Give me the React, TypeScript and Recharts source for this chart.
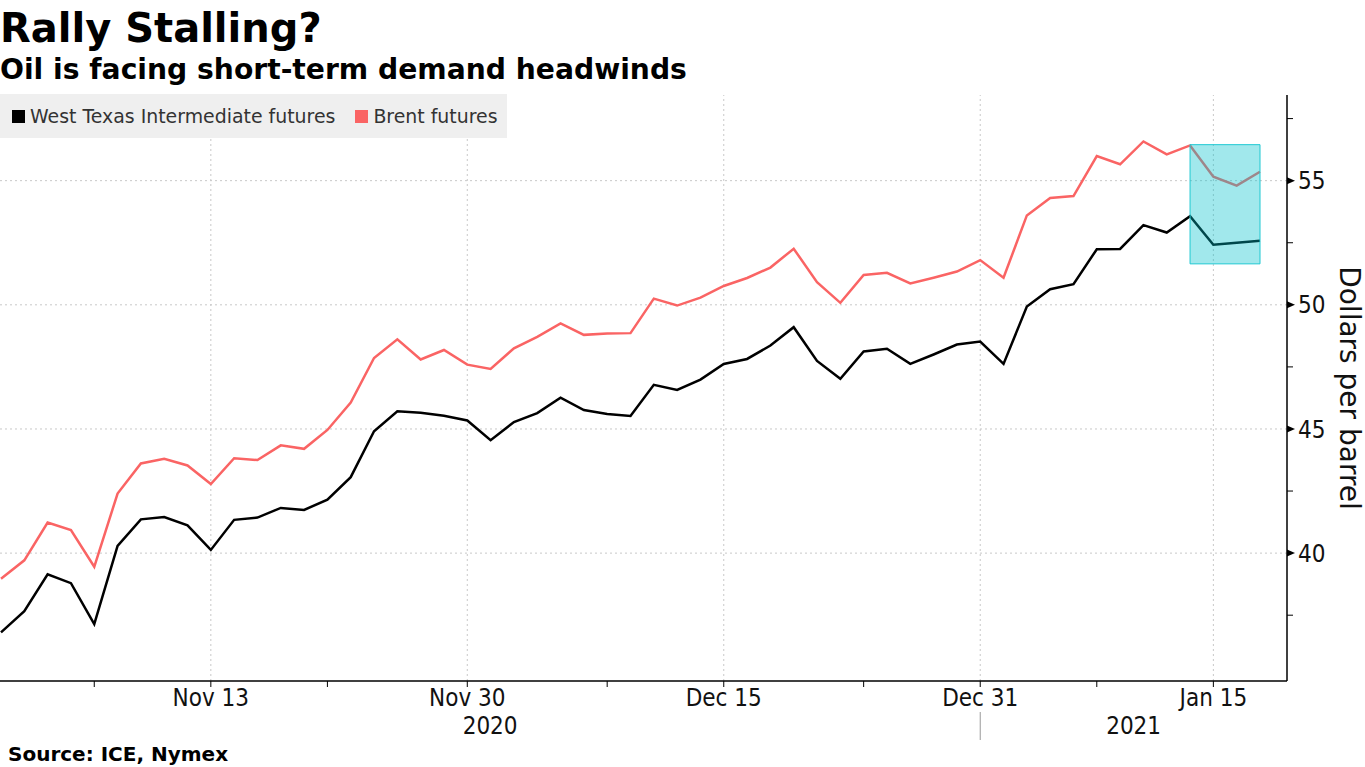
import React from 'react';
import { LineChart, Line, XAxis, YAxis, ReferenceArea, ReferenceLine } from 'recharts';

// trading days shown on the chart
const dates = [
  'Nov 2', 'Nov 3', 'Nov 4', 'Nov 5', 'Nov 6', 'Nov 9', 'Nov 10', 'Nov 11', 'Nov 12', 'Nov 13',
  'Nov 16', 'Nov 17', 'Nov 18', 'Nov 19', 'Nov 20', 'Nov 23', 'Nov 24', 'Nov 25', 'Nov 26', 'Nov 27', 'Nov 30',
  'Dec 1', 'Dec 2', 'Dec 3', 'Dec 4', 'Dec 7', 'Dec 8', 'Dec 9', 'Dec 10', 'Dec 11',
  'Dec 14', 'Dec 15', 'Dec 16', 'Dec 17', 'Dec 18', 'Dec 21', 'Dec 22', 'Dec 23', 'Dec 24',
  'Dec 28', 'Dec 29', 'Dec 30', 'Dec 31',
  'Jan 4', 'Jan 5', 'Jan 6', 'Jan 7', 'Jan 8', 'Jan 11', 'Jan 12', 'Jan 13', 'Jan 14', 'Jan 15', 'Jan 18', 'Jan 19',
];

const wti = [
  36.81, 37.66, 39.15, 38.79, 37.14, 40.29, 41.36, 41.45, 41.12, 40.13,
  41.34, 41.43, 41.82, 41.74, 42.15, 43.06, 44.91, 45.71, 45.65, 45.53, 45.34,
  44.55, 45.28, 45.64, 46.26, 45.76, 45.6, 45.52, 46.78, 46.57,
  46.99, 47.62, 47.82, 48.36, 49.1, 47.74, 47.02, 48.12, 48.23,
  47.62, 48.0, 48.4, 48.52,
  47.62, 49.93, 50.63, 50.83, 52.24, 52.25, 53.21, 52.91, 53.57, 52.42, 52.5, 52.58,
];

const brent = [
  38.97, 39.71, 41.23, 40.93, 39.45, 42.4, 43.61, 43.8, 43.53, 42.78,
  43.82, 43.75, 44.34, 44.2, 44.96, 46.06, 47.86, 48.61, 47.8, 48.18, 47.59,
  47.42, 48.25, 48.71, 49.25, 48.79, 48.84, 48.86, 50.25, 49.97,
  50.29, 50.76, 51.08, 51.5, 52.26, 50.91, 50.08, 51.2, 51.29,
  50.86, 51.09, 51.34, 51.8,
  51.09, 53.6, 54.3, 54.38, 55.99, 55.66, 56.58, 56.06, 56.42, 55.16, 54.8, 55.36,
];

const majorTicks = ['Nov 13', 'Nov 30', 'Dec 15', 'Dec 31', 'Jan 15'];
const minorTicks = ['Nov 6', 'Nov 20', 'Dec 8', 'Dec 23', 'Jan 8'];
const yTicks = [37.5, 40, 42.5, 45, 47.5, 50, 52.5, 55, 57.5];
const yGrid = [40, 45, 50, 55];
const yearLabels = ['2020', '2021'];
const yearBreak = 'Dec 31';
const highlight = { from: 'Jan 14', to: 'Jan 19', low: 51.65, high: 56.45 };

const series = [
  { key: 'wti', name: 'West Texas Intermediate futures', color: '#000000' },
  { key: 'brent', name: 'Brent futures', color: '#fa6464' },
];

const data = dates.map((d, i) => ({ date: d, wti: wti[i], brent: brent[i] }));

const W = 1365;
const H = 767;
const Y_AXIS_W = 78;
const X_AXIS_H = 86;
const PLOT_TOP = 95;
const PLOT_RIGHT = W - Y_AXIS_W;
const Y_DOMAIN: [number, number] = [34.85, 58.45];
const X_PAD = { left: 1, right: 27 };
const tickFont = "'DejaVu Sans Condensed', 'DejaVu Sans', sans-serif";

function XTick(props: any) {
  const { x, y, payload } = props;
  const v = payload.value;
  if (!majorTicks.includes(v)) return null;
  return (
    <g>
      <text x={x} y={y + 17} textAnchor="middle" fontSize={24} fill="#111"
        style={{ fontFamily: tickFont, fontStretch: 'condensed' }}>{v}</text>
      {v === yearBreak && (
        <g>
          <line x1={x} x2={x} y1={y + 23} y2={y + 51} stroke="#999" strokeWidth={1} />
          <text x={x / 2} y={y + 45} textAnchor="middle" fontSize={24} fill="#111"
            style={{ fontFamily: tickFont, fontStretch: 'condensed' }}>{yearLabels[0]}</text>
          <text x={(x + PLOT_RIGHT) / 2} y={y + 45} textAnchor="middle" fontSize={24} fill="#111"
            style={{ fontFamily: tickFont, fontStretch: 'condensed' }}>{yearLabels[1]}</text>
        </g>
      )}
    </g>
  );
}

function YTick(props: any) {
  const { x, y, payload } = props;
  const v = payload.value;
  if (v % 5 === 0) {
    return (
      <g>
        <path d={`M${x},${y - 3.5} L${x + 8},${y} L${x},${y + 3.5} Z`} fill="#000" />
        <text x={x + 11} y={y} dy="0.36em" fontSize={24} fill="#111"
          style={{ fontFamily: tickFont, fontStretch: 'condensed' }}>{v}</text>
      </g>
    );
  }
  return <line x1={x} x2={x + 6} y1={y} y2={y} stroke="#000" strokeWidth={1} />;
}

function YLabel(props: any) {
  const { viewBox } = props;
  const cx = viewBox.x + 63;
  const cy = viewBox.y + viewBox.height / 2;
  return (
    <text x={cx} y={cy} transform={`rotate(90 ${cx} ${cy})`} textAnchor="middle" dy="0.36em"
      fontSize={28} fill="#111" style={{ fontFamily: "'DejaVu Sans', sans-serif" }}>
      Dollars per barrel
    </text>
  );
}

export default function App() {
  return (
    <div style={{ position: 'absolute', left: 0, top: 0, width: W, height: H, background: '#fff' }}>
      <svg width={W} height={90} style={{ position: 'absolute', left: 0, top: 0 }}>
        <text x={0} y={42} fontSize={40} fontWeight="bold" fill="#000"
          style={{ fontFamily: "'DejaVu Sans', sans-serif" }}>Rally Stalling?</text>
        <text x={0} y={79} fontSize={28.2} fontWeight="bold" fill="#000"
          style={{ fontFamily: "'DejaVu Sans', sans-serif" }}>Oil is facing short-term demand headwinds</text>
      </svg>
      <div style={{ position: 'absolute', left: 0, top: 0 }}>
        <LineChart width={W} height={H} data={data} margin={{ top: PLOT_TOP, right: 0, bottom: 0, left: 0 }}>
          {yGrid.map((v) => (
            <ReferenceLine key={`gy${v}`} y={v} stroke="#c8c8c8" strokeDasharray="2 3" />
          ))}
          {majorTicks.map((d) => (
            <ReferenceLine key={`gx${d}`} x={d} stroke="#c8c8c8" strokeDasharray="2 3" />
          ))}
          <XAxis dataKey="date" ticks={[...majorTicks, ...minorTicks]} interval={0} height={X_AXIS_H}
            padding={X_PAD} tick={<XTick />} tickSize={6} tickMargin={2}
            axisLine={{ stroke: '#000', strokeWidth: 1.5 }} tickLine={{ stroke: '#000' }} />
          <YAxis orientation="right" width={Y_AXIS_W} domain={Y_DOMAIN} ticks={yTicks}
            interval={0} tick={<YTick />} tickSize={0} tickMargin={0} tickLine={false}
            axisLine={{ stroke: '#000', strokeWidth: 1.5 }} label={<YLabel />} allowDataOverflow />
          {series.map((s) => (
            <Line key={s.key} dataKey={s.key} name={s.name} type="linear" stroke={s.color}
              strokeWidth={2.5} dot={false} activeDot={false} isAnimationActive={false} />
          ))}
        </LineChart>
      </div>
      {/* same scales again, only to lay the translucent highlight box over the lines */}
      <div style={{ position: 'absolute', left: 0, top: 0, pointerEvents: 'none' }}>
        <LineChart width={W} height={H} data={data}
          margin={{ top: PLOT_TOP, right: Y_AXIS_W, bottom: X_AXIS_H, left: 0 }}>
          <XAxis dataKey="date" hide padding={X_PAD} />
          <YAxis orientation="right" hide domain={Y_DOMAIN} allowDataOverflow />
          <Line dataKey="wti" stroke="none" dot={false} activeDot={false} isAnimationActive={false} />
          <ReferenceArea x1={highlight.from} x2={highlight.to} y1={highlight.low} y2={highlight.high}
            fill="#00c1cc" fillOpacity={0.37} stroke="#1ec8d2" strokeWidth={1} strokeOpacity={1} />
        </LineChart>
      </div>
      <div style={{ position: 'absolute', left: 0, top: 94, width: 507, height: 44, background: '#efefef',
        display: 'flex', alignItems: 'center', fontFamily: "'DejaVu Sans', sans-serif", fontSize: 18.9, color: '#333' }}>
        {series.map((s, i) => (
          <div key={s.key} style={{ display: 'flex', alignItems: 'center', marginLeft: i === 0 ? 12 : 20 }}>
            <span style={{ display: 'inline-block', width: 13, height: 13, background: s.color, marginRight: 5 }} />
            <span>{s.name}</span>
          </div>
        ))}
      </div>
      <svg width={W} height={30} style={{ position: 'absolute', left: 0, top: 737 }}>
        <text x={8} y={24} fontSize={20} fontWeight="bold" fill="#000"
          style={{ fontFamily: "'DejaVu Sans', sans-serif" }}>Source: ICE, Nymex</text>
      </svg>
    </div>
  );
}
